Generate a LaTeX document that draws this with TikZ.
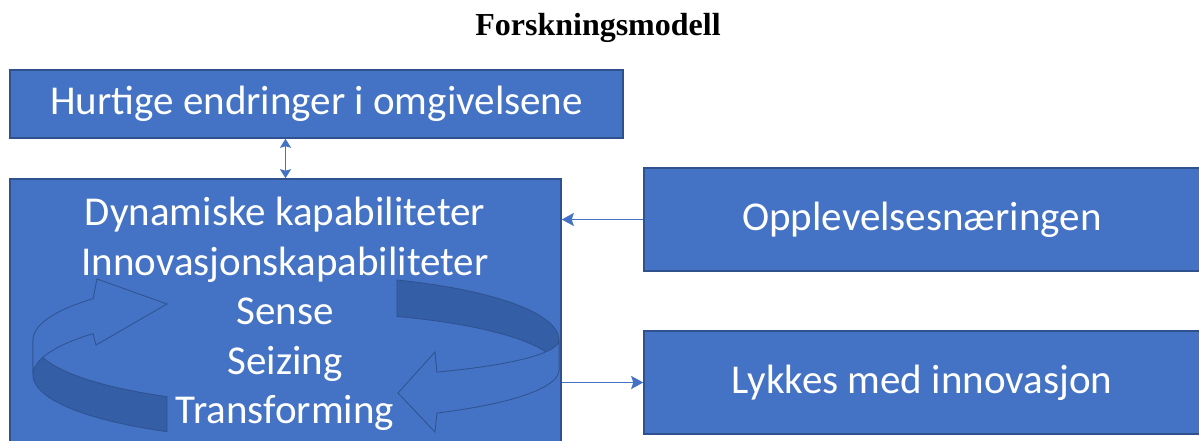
\documentclass[tikz,border=0pt]{standalone}
\usepackage{fontspec}
\setmainfont{Liberation Serif}
\newfontfamily\calibrifont{Carlito}
\usepackage{tikz}
\usetikzlibrary{calc}
\usetikzlibrary{positioning}
\usetikzlibrary{arrows.meta}
\definecolor{boxblue}{HTML}{4472C4}
\definecolor{boxedge}{HTML}{2F528F}
\definecolor{ringdark}{RGB}{52,94,166}
\tikzset{
  blue_box/.style = {draw=boxedge, fill=boxblue, line width=1.5pt,
    inner sep=0pt},
  box_text/.style = {text=white, align=center,
    font=\calibrifont\fontsize{41}{49.5}\selectfont},
  link_arrow/.style = {draw=boxblue, line width=1.8pt,
    -{Stealth[length=12pt,width=13pt,inset=2pt]}},
  both_arrow/.style = {draw=boxblue, line width=1.8pt,
    {Stealth[length=9pt,width=11pt,inset=1.5pt]}-{Stealth[length=9pt,width=11pt,inset=1.5pt]}},
  ring_dark/.style = {fill=ringdark, draw=boxedge, line width=0.8pt},
  ring_light/.style = {fill=boxblue, draw=boxedge, line width=0.8pt}
}

\begin{document}
\begin{tikzpicture}[x=1pt, y=-1pt]
  \useasboundingbox (0,0) rectangle (1199,441);
  \node[font=\bfseries\fontsize{32}{38}\selectfont, anchor=base] (title) at (598,36) {Forskningsmodell};
  % boxes
  \node[blue_box, box_text, minimum width=613pt, minimum height=68pt] (env) at (316.5,104) {Hurtige endringer i omgivelsene};
  \node[blue_box, minimum width=551pt, minimum height=264pt] (dyn) at (285.5,311) {};
  \node[blue_box, box_text, minimum width=556pt, minimum height=103pt] (exp) at (922,219.5) {Opplevelsesn\ae ringen};
  \node[blue_box, box_text, minimum width=556pt, minimum height=103pt] (succ) at (922,382.5) {Lykkes med innovasjon};
  % ring
  \draw[ring_dark] plot[domain=119.4:180, samples=30, variable=\t] ({296+263*cos(\t)},{340+65*sin(\t)})
    -- plot[domain=180:119.4, samples=30, variable=\t] ({296+263*cos(\t)},{375+65*sin(\t)}) -- cycle;
  \draw[ring_light] plot[domain=180:219.5, samples=20, variable=\t] ({296+263*cos(\t)},{340+65*sin(\t)})
    -- (97,279) -- (167,304) -- (96,345)
    -- plot[domain=219.5:180, samples=20, variable=\t] ({296+263*cos(\t)},{375+65*sin(\t)}) -- cycle;
  \draw[ring_dark] plot[domain=292.6:360, samples=30, variable=\t] ({296+263*cos(\t)},{340+65*sin(\t)})
    -- plot[domain=360:292.6, samples=30, variable=\t] ({296+263*cos(\t)},{370+58*sin(\t)}) -- cycle;
  \draw[ring_light] plot[domain=0:57.6, samples=25, variable=\t] ({296+263*cos(\t)},{340+38*sin(\t)})
    -- (435,352) -- (398,393) -- (435,432)
    -- plot[domain=57.6:0, samples=25, variable=\t] ({296+263*cos(\t)},{370+51*sin(\t)}) -- cycle;
  \node[box_text] (dyn_text) at (285,314) {Dynamiske kapabiliteter\\Innovasjonskapabiliteter\\Sense\\Seizing\\Transforming};
  % connectors
  \draw[both_arrow] (dyn.north) -- (env.south -| dyn.north);
  \draw[link_arrow] (exp.west) -- (exp.west -| dyn.east);
  \draw[link_arrow] (dyn.east |- succ.west) -- (succ.west);
\end{tikzpicture}
\end{document}
